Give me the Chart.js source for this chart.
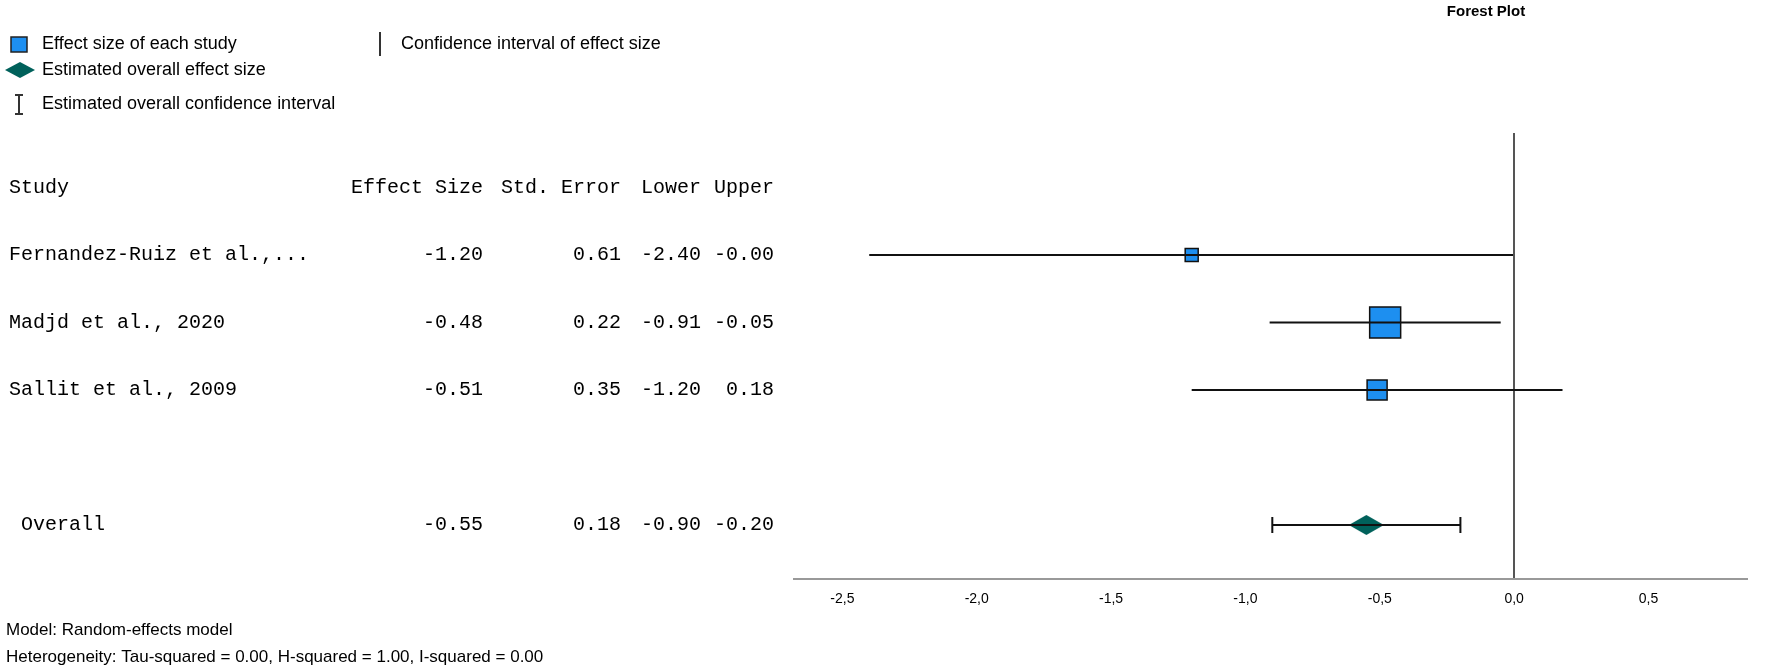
<!DOCTYPE html>
<html lang="en">
<head>
<meta charset="UTF-8">
<title>Forest Plot</title>
<script src="https://cdn.jsdelivr.net/npm/chart.js"></script>
<style>
  body { margin: 0; background: #fff; }
  canvas { display: block; }
</style>
</head>
<body>
<canvas id="forest" width="1770" height="667"></canvas>
<script>
// data
const studies = ['Fernandez-Ruiz et al.,...', 'Madjd et al., 2020', 'Sallit et al., 2009'];
const effectSize = [-1.20, -0.48, -0.51];
const stdError = [0.61, 0.22, 0.35];
const lowerCI = [-2.40, -0.91, -1.20];
const upperCI = [-0.004, -0.05, 0.18];
const studyRows = [0, 1, 2];

const overallLabel = ' Overall';
const overallEffect = -0.55;
const overallStdError = 0.18;
const overallLower = -0.90;
const overallUpper = -0.20;
const overallRow = 4;

const xTicks = [-2.5, -2.0, -1.5, -1.0, -0.5, 0.0, 0.5];
const headerRow = -1;

// styling
const boxSizes = [13, 31, 20];     // side of each study square, px
const BLUE = '#1d8ff0';
const TEAL = '#00615b';
const MONO = '"Liberation Mono", "Courier New", monospace';
const SANS = '"Liberation Sans", Arial, sans-serif';
const cols = [483, 621, 701, 774];  // right edges of the number columns

function diamond(w, h, color) {
  const c = document.createElement('canvas');
  c.width = w; c.height = h;
  const g = c.getContext('2d');
  g.fillStyle = color;
  g.beginPath();
  g.moveTo(0, h / 2); g.lineTo(w / 2, 0); g.lineTo(w, h / 2); g.lineTo(w / 2, h);
  g.closePath();
  g.fill();
  return c;
}

const fmt = v => v.toFixed(2);

// confidence interval whiskers, drawn on top like the original
const ciLines = {
  id: 'ciLines',
  afterDatasetsDraw(chart) {
    const { ctx, scales: { x, y } } = chart;
    ctx.save();
    ctx.strokeStyle = '#111';
    ctx.lineWidth = 2;
    studies.forEach((s, i) => {
      const py = y.getPixelForValue(studyRows[i]);
      ctx.beginPath();
      ctx.moveTo(x.getPixelForValue(lowerCI[i]), py);
      ctx.lineTo(x.getPixelForValue(upperCI[i]), py);
      ctx.stroke();
    });
    const oy = y.getPixelForValue(overallRow);
    const x1 = x.getPixelForValue(overallLower), x2 = x.getPixelForValue(overallUpper);
    ctx.beginPath();
    ctx.moveTo(x1, oy); ctx.lineTo(x2, oy);
    ctx.moveTo(x1, oy - 8); ctx.lineTo(x1, oy + 8);
    ctx.moveTo(x2, oy - 8); ctx.lineTo(x2, oy + 8);
    ctx.stroke();
    ctx.restore();
  }
};

// study table, legend, title and notes
const decorations = {
  id: 'decorations',
  afterDraw(chart) {
    const { ctx, scales: { y } } = chart;
    ctx.save();
    ctx.fillStyle = '#000';
    ctx.textBaseline = 'middle';

    // table
    ctx.font = '20px ' + MONO;
    const hy = y.getPixelForValue(headerRow);
    ctx.textAlign = 'left';
    ctx.fillText('Study', 9, hy);
    ctx.textAlign = 'right';
    ['Effect Size', 'Std. Error', 'Lower', 'Upper'].forEach((h, k) => ctx.fillText(h, cols[k], hy));
    const row = (label, vals, r) => {
      const py = y.getPixelForValue(r);
      ctx.textAlign = 'left';
      ctx.fillText(label, 9, py);
      ctx.textAlign = 'right';
      vals.forEach((v, k) => ctx.fillText(fmt(v), cols[k], py));
    };
    studies.forEach((s, i) => row(s, [effectSize[i], stdError[i], lowerCI[i], upperCI[i]], studyRows[i]));
    row(overallLabel, [overallEffect, overallStdError, overallLower, overallUpper], overallRow);

    // title
    ctx.textAlign = 'center';
    ctx.font = 'bold 15px ' + SANS;
    ctx.fillText('Forest Plot', 1486, 12);

    // legend
    ctx.textAlign = 'left';
    ctx.fillStyle = BLUE;
    ctx.strokeStyle = '#222';
    ctx.lineWidth = 1.5;
    ctx.fillRect(11, 37, 16, 15);
    ctx.strokeRect(11, 37, 16, 15);
    ctx.drawImage(diamond(30, 16, TEAL), 5, 62);
    ctx.strokeStyle = '#333';
    ctx.lineWidth = 2;
    ctx.beginPath();
    ctx.moveTo(19, 95); ctx.lineTo(19, 114);
    ctx.moveTo(15, 95); ctx.lineTo(23, 95);
    ctx.moveTo(15, 114); ctx.lineTo(23, 114);
    ctx.moveTo(380, 32); ctx.lineTo(380, 56);
    ctx.stroke();
    ctx.fillStyle = '#000';
    ctx.font = '18px ' + SANS;
    ctx.fillText('Effect size of each study', 42, 44);
    ctx.fillText('Estimated overall effect size', 42, 70);
    ctx.fillText('Estimated overall confidence interval', 42, 104);
    ctx.fillText('Confidence interval of effect size', 401, 44);

    // notes
    ctx.font = '17px ' + SANS;
    ctx.fillText('Model: Random-effects model', 6, 630);
    ctx.fillText('Heterogeneity: Tau-squared = 0.00, H-squared = 1.00, I-squared = 0.00', 6, 657);
    ctx.restore();
  }
};

new Chart(document.getElementById('forest'), {
  type: 'scatter',
  data: {
    datasets: [
      {
        label: 'Effect size of each study',
        data: effectSize.map((v, i) => ({ x: v, y: studyRows[i] })),
        pointStyle: 'rect',
        pointRadius: boxSizes.map(s => s / Math.SQRT2),
        pointHoverRadius: boxSizes.map(s => s / Math.SQRT2),
        backgroundColor: BLUE,
        borderColor: '#111',
        borderWidth: 1.5
      },
      {
        label: 'Estimated overall effect size',
        data: [{ x: overallEffect, y: overallRow }],
        pointStyle: diamond(35, 20, TEAL),
        pointRadius: 10
      }
    ]
  },
  options: {
    responsive: false,
    animation: false,
    devicePixelRatio: 1,
    layout: { padding: { left: 794, right: 2, top: 133, bottom: 0 } },
    plugins: { legend: { display: false }, title: { display: false }, tooltip: { enabled: false } },
    scales: {
      x: {
        type: 'linear',
        min: -2.68,
        max: 0.865,
        afterBuildTicks: s => { s.ticks = xTicks.map(v => ({ value: v })); },
        afterFit: s => { s.height = 88; },
        grid: {
          drawTicks: false,
          lineWidth: 2,
          color: c => (c.tick && c.tick.value === 0 ? '#555' : 'rgba(0,0,0,0)')
        },
        border: { display: true, color: '#999', width: 2 },
        ticks: {
          padding: 12,
          color: '#000',
          font: { family: SANS, size: 14 },
          callback: v => v.toFixed(1).replace('.', ',')
        }
      },
      y: {
        type: 'linear',
        display: false,
        reverse: true,
        min: -1.807,
        max: 4.8
      }
    }
  },
  plugins: [ciLines, decorations]
});
</script>
</body>
</html>
